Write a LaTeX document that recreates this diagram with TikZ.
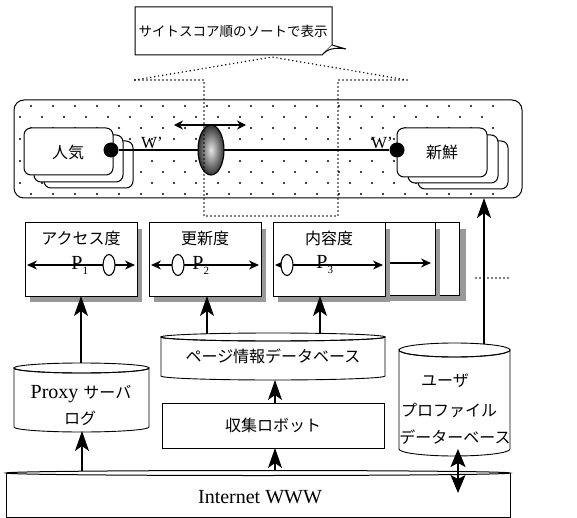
\documentclass[tikz,border=0pt]{standalone}
\usepackage{fontspec}
\setmainfont{Liberation Serif}
\newfontfamily\jp{Noto Sans CJK JP}
\usetikzlibrary{arrows.meta,shapes.geometric}
\newcommand\mycyl[5]{%
  \pgfmathsetmacro\cxr{(#2-#1)/2}%
  \draw[fill=white] (#1,#3) -- (#1,#4) arc[start angle=180,end angle=0,x radius=\cxr,y radius=#5] -- (#2,#3) arc[start angle=0,end angle=180,x radius=\cxr,y radius=#5] -- cycle;
  \draw ({(#1+#2)/2},#3) ellipse ({\cxr} and #5);
}
\begin{document}
\begin{tikzpicture}[x=1pt,y=-1pt,line width=0.9pt,
  jt/.style={font=\jp\fontsize{16}{19}\selectfont,inner sep=0pt},
  jsmall/.style={font=\jp\fontsize{13.5}{16}\selectfont,inner sep=0pt},
  lt/.style={font=\fontsize{20}{23}\selectfont,inner sep=0pt},
  wt/.style={font=\fontsize{17}{19}\selectfont,inner sep=0pt},
  bigarrow/.style={-{Stealth[length=20pt,width=14pt,inset=5pt]},line width=1.2pt},
  parrow/.style={{Stealth[length=10pt,width=9pt]}-{Stealth[length=10pt,width=9pt]},line width=1.1pt},
  dotline/.style={line width=1.6pt,dash pattern=on 0pt off 4pt,line cap=round},
  shadowbox/.style={fill=black!40,draw=none},
  card/.style={fill=white,draw,line width=1pt},
  pball/.style={draw,fill=white,ellipse,minimum width=12pt,minimum height=21pt,inner sep=0pt,line width=1.1pt},
]
\useasboundingbox (0,0) rectangle (577,518);

% ---------- callout ----------
\draw[fill=white,line width=1pt] (135,7) -- (332,7) -- (332,45) -- (322,55) -- (135,55) -- cycle;
\draw[fill=white,line width=1pt] (322,55) .. controls (327,49) and (335,47) .. (346,49) -- (332,45);
\node[jsmall] (callout) at (233,31) {サイトスコア順のソートで表示};

% ---------- dotted zoom shape ----------
\coordinate (apex) at (272,57);
\coordinate (zl) at (135,80);
\coordinate (zr) at (407,80);
\draw[dotline] (zl) -- (apex) -- (zr);

% ---------- panel ----------
\draw[rounded corners=10pt,line width=1pt,fill=white] (14,100) rectangle (522,198);
\foreach \yy [count=\i] in {106,117,...,194}{
  \pgfmathsetmacro\off{mod(\i,2)*11}
  \foreach \xx in {20,42,...,498}{
    \fill ({\xx+\off},\yy) circle (1.15pt);
  }
}

% stacks
\draw[card,rounded corners=7pt] (44,141) rectangle (133,188);
\draw[card,rounded corners=7pt] (34,135) rectangle (123,182);
\draw[card,rounded corners=7pt] (24,128) rectangle (113,175);
\node[jt] (ninki) at (68,152) {人気};

\draw[card,rounded corners=7pt] (418,141) rectangle (508,189);
\draw[card,rounded corners=7pt] (408,135) rectangle (498,183);
\draw[card,rounded corners=7pt] (397,128) rectangle (487,177);
\node[jt] (shinsen) at (442,152) {新鮮};

\node[circle,fill=black,minimum size=15pt,inner sep=0pt] (dl) at (111,150) {};
\node[circle,fill=black,minimum size=15pt,inner sep=0pt] (dr) at (397,150) {};
\draw[line width=1.1pt] (dl) -- (dr);
\node[wt,anchor=base] (wl) at (152,149) {W'};
\node[wt,anchor=base] (wr) at (382,149) {W'};

\node[ellipse,minimum width=26pt,minimum height=50pt,inner sep=0pt,draw,line width=1.1pt,shading=radial,inner color=black!10,outer color=black!80] (slider) at (211,150) {};
\draw[{Stealth[length=9pt,width=9pt]}-{Stealth[length=9pt,width=9pt]},line width=1.1pt] (174,125) -- (246,125);

\draw[dotline] (zl) -- (204,80) -- (204,216) -- (338,216) -- (338,80) -- (zr);

% ---------- middle row ----------
\fill[shadowbox] (30,229) rectangle (142,302);
\draw[card] (25,223) rectangle (137,296);
\node[jt] (access) at (81,238) {アクセス度};

\fill[shadowbox] (154,229) rectangle (266,302);
\draw[card] (149,223) rectangle (261,296);
\node[jt] (koushin) at (205,238) {更新度};

\fill[shadowbox] (312,229) rectangle (466,301);
\draw[card] (307,223) rectangle (459,295);
\fill[shadowbox] (293,229) rectangle (440,301);
\draw[card] (288,223) rectangle (435,295);
\fill[shadowbox] (278,229) rectangle (390,302);
\draw[card] (273,223) rectangle (385,296);
\node[jt] (naiyou) at (329,238) {内容度};

\coordinate (a1) at (27,265); \coordinate (a2) at (135,265);
\draw[parrow] (a1) -- (a2);
\node[lt,anchor=west] (p1) at (71,265) {P\raisebox{-5pt}{\fontsize{11}{11}\selectfont 1}};
\node[pball] (e1) at (109,265) {};

\coordinate (b1) at (151,265); \coordinate (b2) at (259,265);
\draw[parrow] (b1) -- (b2);
\node[lt,anchor=west] (p2) at (192,265) {P\raisebox{-5pt}{\fontsize{11}{11}\selectfont 2}};
\node[pball] (e2) at (178,265) {};

\coordinate (c1) at (275,265); \coordinate (c2) at (383,265);
\draw[parrow] (c1) -- (c2);
\node[lt,anchor=west] (p3) at (316,265) {P\raisebox{-5pt}{\fontsize{11}{11}\selectfont 3}};
\node[pball] (e3) at (287,265) {};

\coordinate (d1) at (390,263); \coordinate (d2) at (431,263);
\draw[-{Stealth[length=10pt,width=9pt]},line width=1.1pt] (d1) -- (d2);
\draw[dotline] (476,278) -- (508,278);

% ---------- bottom ----------
\fill[white] (6,473) rectangle (510,517);
\draw[line width=1pt] (6,473) -- (6,517) -- (510,517) -- (510,473);
\draw[line width=1pt] (258,473) ellipse (252 and 2.5);
\node[lt] (www) at (260,497) {Internet WWW};

\mycyl{14}{149}{368}{427}{5}
\node[lt,anchor=base] (proxy) at (81,398) {Proxy {\jp\fontsize{16}{19}\selectfont サーバ}};
\node[jt] (log) at (80,418) {ログ};

\mycyl{161}{385}{337}{376}{4}
\node[jt] (pagedb) at (273,356) {ページ情報データベース};

\draw[card] (162,403) rectangle (384,448);
\node[jt] (robot) at (273,425) {収集ロボット};

\mycyl{399}{510}{350}{449}{7}
\node[jt] (u1) at (445,381) {ユーザ};
\node[jt] (u2) at (449,410) {プロファイル};
\node[jt] (u3) at (455,437) {データーベース};

% ---------- arrows ----------
\coordinate (proxytop) at (81,363);
\coordinate (proxybot) at (82,431);
\coordinate (accbot) at (81,296);
\coordinate (koubot) at (207,296);
\coordinate (naibot) at (320,296);
\coordinate (pdbtop1) at (207,334);
\coordinate (pdbtop2) at (320,334);
\coordinate (pdbbot) at (275,380);
\coordinate (robtop) at (275,403);
\coordinate (robbot) at (275,448);
\coordinate (wwwtopa) at (82,471);
\coordinate (wwwtopb) at (275,471);
\coordinate (udbtop) at (484,344);
\coordinate (panelbot) at (484,198);
\coordinate (udbbot) at (458,449);
\coordinate (wwwin) at (458,493);

\draw[bigarrow] (proxytop) -- (accbot);
\draw[bigarrow] (pdbtop1) -- (koubot);
\draw[bigarrow] (pdbtop2) -- (naibot);
\draw[bigarrow] (udbtop) -- (panelbot);
\draw[bigarrow] (wwwtopa) -- (proxybot);
\draw[bigarrow] (wwwtopb) -- (robbot);
\draw[bigarrow] (robtop) -- (pdbbot);
\draw[{Stealth[length=18pt,width=15pt,inset=4pt]}-{Stealth[length=18pt,width=15pt,inset=4pt]},line width=1.2pt] (udbbot) -- (wwwin);
\end{tikzpicture}
\end{document}
